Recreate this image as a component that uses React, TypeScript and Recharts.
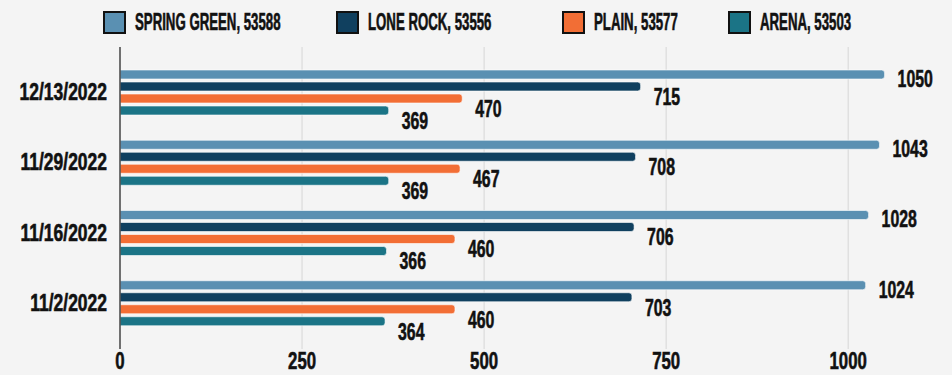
import { Bar, BarChart, CartesianGrid, LabelList, XAxis, YAxis } from "recharts";

const dates = ["12/13/2022", "11/29/2022", "11/16/2022", "11/2/2022"];
const springGreen = [1050, 1043, 1028, 1024];
const loneRock = [715, 708, 706, 703];
const plain = [470, 467, 460, 460];
const arena = [369, 369, 366, 364];
const xTicks = [0, 250, 500, 750, 1000];
const gridValues = [250, 500, 750, 1000];

const series = [
  { key: "spring", name: "SPRING GREEN, 53588", color: "#5a90b2", dy: 4, left: 103 },
  { key: "lone", name: "LONE ROCK, 53556", color: "#10405f", dy: 10, left: 336 },
  { key: "plain", name: "PLAIN, 53577", color: "#f26e35", dy: 10, left: 562 },
  { key: "arena", name: "ARENA, 53503", color: "#1b7486", dy: 10, left: 728 },
];

const data = dates.map((date, i) => ({
  date,
  spring: springGreen[i],
  lone: loneRock[i],
  plain: plain[i],
  arena: arena[i],
}));

const font = "'Liberation Sans', Arial, sans-serif";

function NarrowText({ x, y, anchor, size, squeeze, children }: any) {
  return (
    <g transform={`translate(${x},${y}) scale(${squeeze},1)`}>
      <text
        x={0}
        y={0}
        textAnchor={anchor}
        dominantBaseline="central"
        fill="#111"
        stroke="#111"
        strokeWidth={0.6}
        fontSize={size}
        fontWeight={700}
        fontFamily={font}
      >
        {children}
      </text>
    </g>
  );
}

function XTick(props: any) {
  const { x, y, payload } = props;
  return (
    <NarrowText x={x} y={y + 3} anchor="middle" size={24} squeeze={0.7}>
      {payload.value}
    </NarrowText>
  );
}

function YTick(props: any) {
  const { x, y, payload } = props;
  return (
    <NarrowText x={x} y={y} anchor="end" size={23} squeeze={0.76}>
      {payload.value}
    </NarrowText>
  );
}

function ValueLabel(props: any) {
  const { x, y, width, height, value, dy } = props;
  return (
    <NarrowText x={x + width + 13} y={y + height / 2 + dy} anchor="start" size={24} squeeze={0.66}>
      {value}
    </NarrowText>
  );
}

function LegendRow() {
  return (
    <div style={{ position: "absolute", top: 0, left: 0, width: 952, height: 44 }}>
      {series.map((s) => (
        <div
          key={s.key}
          style={{
            position: "absolute",
            top: 10,
            left: s.left,
            display: "flex",
            alignItems: "center",
            whiteSpace: "nowrap",
          }}
        >
          <span
            style={{
              width: 19,
              height: 19,
              background: s.color,
              border: "2.5px solid #111",
              display: "inline-block",
            }}
          />
          <span
            style={{
              marginLeft: 9,
              lineHeight: "24px",
              fontFamily: font,
              fontWeight: 700,
              fontSize: 23,
              color: "#111",
              WebkitTextStroke: "0.6px #111",
              display: "inline-block",
              transform: "scaleX(0.575)",
              transformOrigin: "left center",
            }}
          >
            {s.name}
          </span>
        </div>
      ))}
    </div>
  );
}

export default function App() {
  return (
    <div
      style={{
        position: "absolute",
        top: 0,
        left: 0,
        width: 952,
        height: 375,
        background: "#f4f4f4",
      }}
    >
      <LegendRow />
      <BarChart
        width={952}
        height={375}
        data={data}
        layout="vertical"
        margin={{ top: 47, right: 31, bottom: 0, left: 8 }}
        barSize={9}
        barGap={3}
      >
        <CartesianGrid horizontal={false} stroke="#d6d6d6" verticalValues={gridValues} />
        <XAxis
          type="number"
          domain={[0, 1100]}
          ticks={xTicks}
          axisLine={false}
          tickLine={false}
          tick={<XTick />}
          tickMargin={2}
          height={26}
        />
        <YAxis
          type="category"
          dataKey="date"
          width={112}
          tickLine={false}
          axisLine={{ stroke: "#444", strokeWidth: 1.5 }}
          tick={<YTick />}
          tickMargin={7}
          padding={{ top: 10, bottom: 11 }}
        />
        {series.map((s) => (
          <Bar
            key={s.key}
            dataKey={s.key}
            name={s.name}
            fill={s.color}
            stroke="rgba(255,255,255,0.6)"
            strokeWidth={1}
            radius={[0, 3, 3, 0]}
            isAnimationActive={false}
          >
            <LabelList dataKey={s.key} content={(p: any) => <ValueLabel {...p} dy={s.dy} />} />
          </Bar>
        ))}
      </BarChart>
    </div>
  );
}
